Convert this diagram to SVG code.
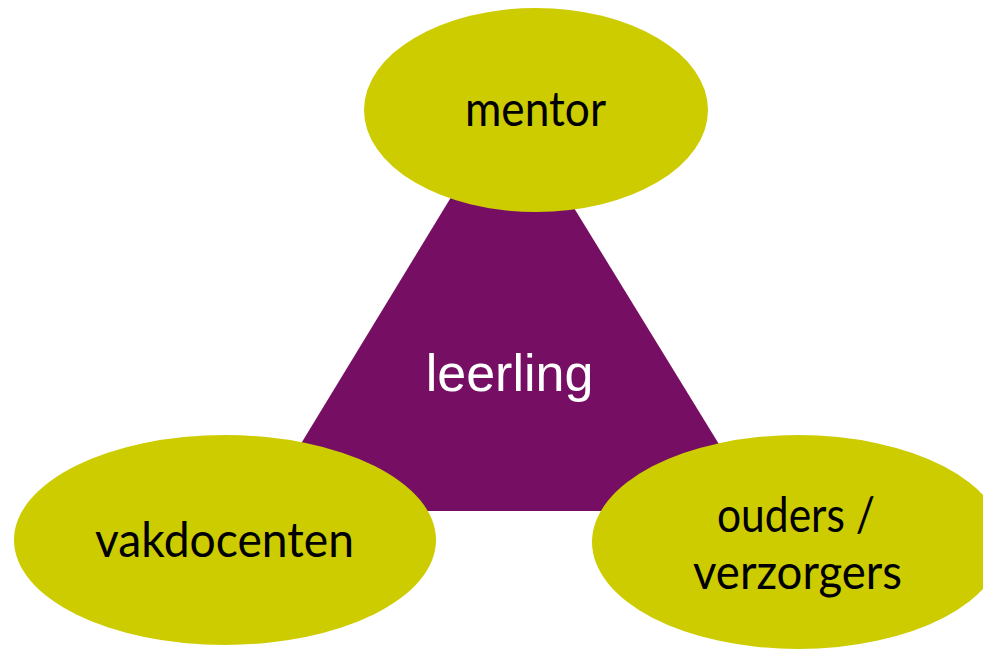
<svg xmlns="http://www.w3.org/2000/svg" width="983" height="651" viewBox="0 0 983 651">
<style>
.ell{fill:#CCCC00;}
.lbl{font-family:Lato,"Open Sans",sans-serif;font-size:49px;fill:#000;text-anchor:middle;}
.ctr{font-family:"Liberation Sans",Arial,sans-serif;font-size:52px;fill:#fff;text-anchor:middle;}
</style>
<rect width="983" height="651" fill="#fff"/>
<g id="leerling">
<polygon points="509,102 260,511 760,511" fill="#760F63"/>
<text class="ctr" x="509.5" y="391">leerling</text>
</g>
<g id="connectors"></g>
<g id="mentor">
<ellipse class="ell" cx="536" cy="110" rx="172" ry="102"/>
<text class="lbl" x="535.5" y="126" textLength="141" lengthAdjust="spacingAndGlyphs">mentor</text>
</g>
<g id="vakdocenten">
<ellipse class="ell" cx="225" cy="540" rx="211" ry="105"/>
<text class="lbl" x="224.5" y="557" textLength="259" lengthAdjust="spacingAndGlyphs">vakdocenten</text>
</g>
<g id="ouders">
<ellipse class="ell" cx="798" cy="542" rx="206" ry="107"/>
<text class="lbl" x="796" y="532" textLength="158" lengthAdjust="spacingAndGlyphs">ouders /</text>
<text class="lbl" x="797.5" y="588.5" textLength="209" lengthAdjust="spacingAndGlyphs">verzorgers</text>
</g>
</svg>
